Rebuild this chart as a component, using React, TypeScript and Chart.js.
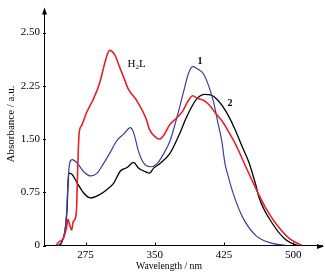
import React, { useEffect, useRef } from "react";
import { Chart, registerables } from "chart.js";

Chart.register(...registerables);

// ---- data ----
const X_TICKS = [275, 350, 425, 500];
const Y_TICK_VALUES = [0, 0.75, 1.5, 2.25, 3.0];
const Y_TICK_LABELS = ["0", "0.75", "1.50", "2.25", "2.50"];

// H2L (red)
const RED_WL = [243, 246, 251, 254.5, 256, 258, 260, 261.5, 263.5, 265.3, 266.1, 267, 268.1, 270.7, 276, 283, 290, 297.5, 301, 306.5, 312, 317.5, 321, 330, 341, 344, 351.5, 355, 360.5, 366, 373, 380, 385.7, 391, 396.5, 402, 409, 416, 423.5, 430.5, 438, 448.5, 459.5, 470, 481, 495.5, 506, 509.5];
const RED_ABS = [0, 0.05, 0.1, 0.26, 0.37, 0.28, 0.22, 0.33, 0.37, 0.53, 0.9, 1.3, 1.59, 1.69, 1.87, 2.05, 2.28, 2.65, 2.75, 2.69, 2.51, 2.33, 2.21, 2.05, 1.77, 1.64, 1.52, 1.5, 1.57, 1.7, 1.79, 1.89, 2.03, 2.11, 2.07, 2.05, 1.98, 1.86, 1.74, 1.59, 1.41, 1.11, 0.8, 0.53, 0.31, 0.1, 0.02, 0];

// complex 1 (blue)
const BLUE_WL = [245.4, 249, 252.7, 254.5, 256, 258, 260.6, 266, 273, 280.4, 287.5, 294.7, 302, 309, 316.3, 323.5, 327, 332.5, 338, 345, 352.3, 359.4, 366.6, 373.8, 381, 386.3, 391, 397.2, 402.6, 408, 413.4, 418.8, 422.4, 426, 429.6, 434.2, 445, 459.4, 477.3, 492];
const BLUE_ABS = [0, 0.05, 0.21, 0.45, 0.9, 1.17, 1.21, 1.16, 1.04, 0.98, 1.02, 1.16, 1.32, 1.48, 1.57, 1.66, 1.59, 1.32, 1.16, 1.11, 1.15, 1.29, 1.48, 1.8, 2.16, 2.42, 2.52, 2.48, 2.42, 2.26, 2.03, 1.7, 1.48, 1.15, 0.97, 0.76, 0.4, 0.14, 0.03, 0];

// complex 2 (black)
const BLACK_WL = [247.3, 249, 252.7, 255, 256, 257, 260.5, 266, 273, 280.4, 289.3, 298.3, 305.5, 312.7, 320, 327, 332.5, 339.7, 344.3, 348.7, 355, 366, 376.7, 384, 391, 396.4, 403.7, 411, 418, 427, 436, 445, 452.2, 459.4, 463, 477.3, 491.8, 502.6, 506];
const BLACK_ABS = [0, 0.04, 0.2, 0.52, 0.85, 1.02, 1.0, 0.88, 0.74, 0.67, 0.71, 0.79, 0.88, 1.05, 1.1, 1.17, 1.09, 1.04, 1.02, 1.09, 1.15, 1.29, 1.57, 1.8, 1.98, 2.08, 2.13, 2.12, 2.05, 1.89, 1.66, 1.38, 1.16, 0.85, 0.67, 0.31, 0.08, 0.01, 0];

const SERIF = '"Liberation Serif", "Times New Roman", Times, serif';

const toPoints = (xs: number[], ys: number[]) => xs.map((x, i) => ({ x, y: ys[i] }));

const decorPlugin = {
  id: "decor",
  afterDraw(chart: any) {
    const { ctx, chartArea: a, scales } = chart;
    const x = scales.x;
    const y = scales.y;
    ctx.save();
    ctx.strokeStyle = "#000";
    ctx.fillStyle = "#000";
    ctx.lineWidth = 1;
    // inward tick marks
    ctx.beginPath();
    X_TICKS.forEach((v) => {
      const px = Math.round(x.getPixelForValue(v)) + 0.5;
      ctx.moveTo(px, a.bottom);
      ctx.lineTo(px, a.bottom - 3);
    });
    Y_TICK_VALUES.forEach((v) => {
      const py = Math.round(y.getPixelForValue(v)) + 0.5;
      ctx.moveTo(a.left - 1, py);
      ctx.lineTo(a.left + 2, py);
    });
    ctx.stroke();
    // arrow heads
    const lx = Math.round(a.left) + 0.5;
    ctx.beginPath();
    ctx.moveTo(lx, a.top - 3);
    ctx.lineTo(lx - 2.5, a.top + 4);
    ctx.lineTo(lx + 2.5, a.top + 4);
    ctx.closePath();
    ctx.fill();
    const by = Math.round(a.bottom) + 0.5;
    ctx.beginPath();
    ctx.moveTo(a.right + 2, by);
    ctx.lineTo(a.right - 5, by - 2.5);
    ctx.lineTo(a.right - 5, by + 2.5);
    ctx.closePath();
    ctx.fill();

    // axis titles
    ctx.textAlign = "center";
    ctx.textBaseline = "middle";
    ctx.font = `11px ${SERIF}`;
    ctx.save();
    ctx.translate(11, 124);
    ctx.rotate(-Math.PI / 2);
    ctx.fillText("Absorbance / a.u.", 0, 0);
    ctx.restore();
    ctx.save();
    ctx.translate(169, 266);
    ctx.scale(0.88, 1);
    ctx.fillText("Wavelength / nm", 0, 0);
    ctx.restore();

    // annotations
    ctx.textAlign = "left";
    ctx.textBaseline = "alphabetic";
    ctx.font = `11px ${SERIF}`;
    ctx.fillText("H", 127.5, 67);
    const hW = ctx.measureText("H").width;
    ctx.font = `7px ${SERIF}`;
    ctx.fillText("2", 127.5 + hW, 69);
    const sW = ctx.measureText("2").width;
    ctx.font = `11px ${SERIF}`;
    ctx.fillText("L", 127.5 + hW + sW, 67);
    ctx.font = `bold 10px ${SERIF}`;
    ctx.fillText("1", 197.5, 63.5);
    ctx.fillText("2", 227.5, 106);
    ctx.restore();
  },
};

export default function App() {
  const canvasRef = useRef<HTMLCanvasElement | null>(null);

  useEffect(() => {
    const canvas = canvasRef.current;
    if (!canvas) return;
    const chart = new Chart(canvas, {
      type: "line",
      data: {
        datasets: [
          {
            label: "H2L",
            data: toPoints(RED_WL, RED_ABS),
            borderColor: "#e3222b",
            borderWidth: 1.6,
            pointRadius: 0,
            cubicInterpolationMode: "monotone",
          },
          {
            label: "1",
            data: toPoints(BLUE_WL, BLUE_ABS),
            borderColor: "#3d3d9e",
            borderWidth: 1.2,
            pointRadius: 0,
            cubicInterpolationMode: "monotone",
          },
          {
            label: "2",
            data: toPoints(BLACK_WL, BLACK_ABS),
            borderColor: "#000000",
            borderWidth: 1.3,
            pointRadius: 0,
            cubicInterpolationMode: "monotone",
          },
        ],
      },
      options: {
        animation: false,
        responsive: false,
        devicePixelRatio: 1,
        layout: { padding: { left: 0, right: 3, top: 5, bottom: 0 } },
        plugins: { legend: { display: false }, tooltip: { enabled: false } },
        scales: {
          x: {
            type: "linear",
            min: 230,
            max: 531,
            grid: { display: false, drawTicks: false },
            border: { display: true, color: "#000", width: 1 },
            afterBuildTicks: (scale: any) => {
              scale.ticks = X_TICKS.map((v) => ({ value: v }));
            },
            afterFit: (scale: any) => {
              scale.height = 32.5;
            },
            ticks: {
              color: "#000",
              padding: 3,
              maxRotation: 0,
              autoSkip: false,
              font: { family: SERIF, size: 11 },
              callback: (v: any) => String(v),
            },
          },
          y: {
            type: "linear",
            min: 0,
            max: 3.31,
            grid: { display: false, drawTicks: false },
            border: { display: true, color: "#000", width: 1 },
            afterBuildTicks: (scale: any) => {
              scale.ticks = Y_TICK_VALUES.map((v) => ({ value: v }));
            },
            afterFit: (scale: any) => {
              scale.width = 44;
            },
            ticks: {
              color: "#000",
              padding: 4,
              autoSkip: false,
              font: { family: SERIF, size: 11 },
              callback: (_v: any, i: number) => Y_TICK_LABELS[i],
            },
          },
        },
      },
      plugins: [decorPlugin],
    });
    return () => chart.destroy();
  }, []);

  return (
    <div style={{ position: "absolute", left: 0, top: 0, width: 325, height: 278, background: "#fff" }}>
      <canvas ref={canvasRef} width={325} height={278} style={{ display: "block", width: 325, height: 278 }} />
    </div>
  );
}
